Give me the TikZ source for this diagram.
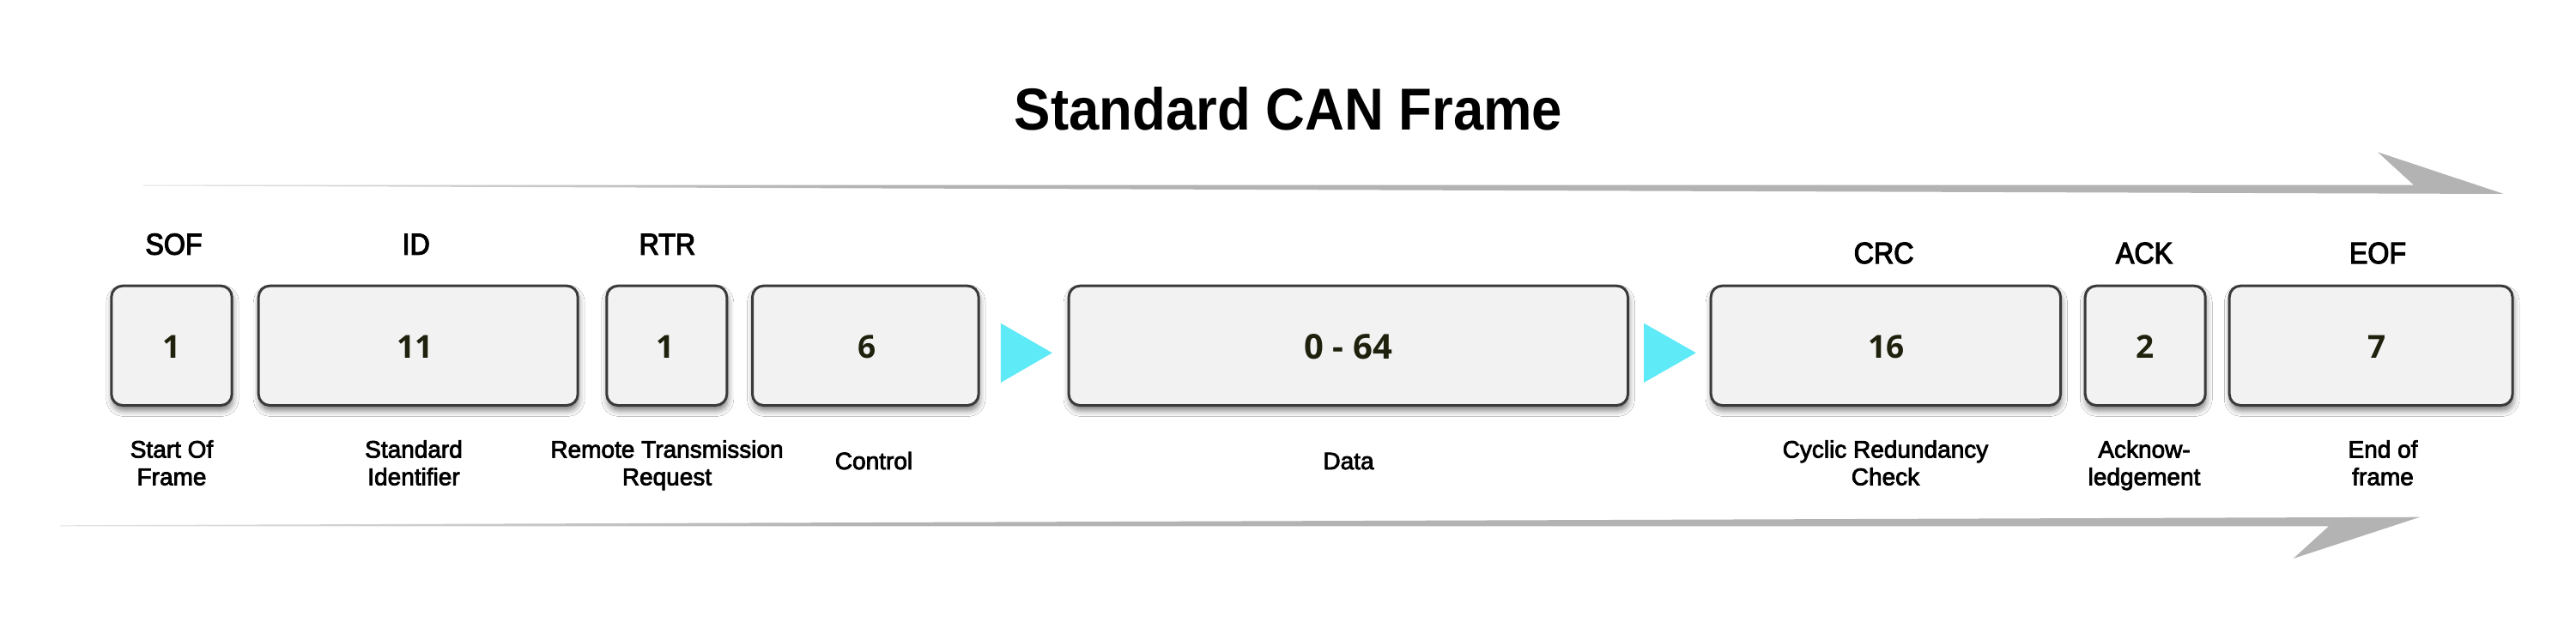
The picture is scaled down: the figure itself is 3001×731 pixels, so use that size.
\documentclass[tikz,border=0pt]{standalone}
\usepackage{fontspec}
\setmainfont{Liberation Sans}
\newfontfamily\tfont[FakeStretch=0.92]{Liberation Sans}
\newfontfamily\hfont[FakeStretch=0.92,FakeBold=3.2]{Liberation Sans}
\newfontfamily\lfont[FakeBold=2.8]{Liberation Sans}
\newfontfamily\nfont{Open Sans}
\usetikzlibrary{shadows.blur}
\definecolor{boxfill}{HTML}{F2F2F2}
\definecolor{boxline}{HTML}{3A3A3A}
\definecolor{arrgray}{HTML}{B3B3B3}
\definecolor{arrlight}{HTML}{E2E2E2}
\definecolor{tricyan}{HTML}{5FEAF7}
\definecolor{numcol}{HTML}{1F210D}
\begin{document}
\begin{tikzpicture}[x=1pt,y=-1pt,
  field/.style={draw=boxline, line width=3pt, fill=boxfill, rounded corners=13pt,
    minimum height=139.3pt, inner sep=0pt,
    blur shadow={shadow xshift=1pt, shadow yshift=-6pt, shadow blur radius=7pt, shadow opacity=50}},
  num/.style={anchor=base, inner sep=0pt, text=numcol, font=\nfont\bfseries\fontsize{37}{44}\selectfont},
  head/.style={anchor=base, inner sep=0pt, font=\hfont\fontsize{35}{42}\selectfont},
  desc/.style={inner sep=0pt, align=center, font=\lfont\fontsize{28}{32}\selectfont},
  titlestyle/.style={anchor=base, inner sep=0pt, font=\tfont\bfseries\fontsize{69}{80}\selectfont},
  tri/.style={fill=tricyan},
  band/.style={fill=arrgray},
  bandfade/.style={left color=arrlight, right color=arrgray}
]
\fill[white] (0,0) rectangle (3001,731);
\useasboundingbox (0,0) rectangle (3001,731);

% title
\node[titlestyle] (title) at (1501,151.7) {Standard CAN Frame};

% top arrow
\shade[bandfade] (167,215.5) -- (1000,215.5) -- (1000,219.4) -- (167,216.5) -- cycle;
\fill[band] (999.5,215.5) -- (2811.7,215.5) -- (2770,177.3) -- (2916.7,226) -- (999.5,219.4) -- cycle;

% bottom arrow
\shade[bandfade] (70,612.3) -- (1000,609.05) -- (1000,613.3) -- (70,613.3) -- cycle;
\fill[band] (999.5,609.05) -- (2819,602.7) -- (2671.7,651) -- (2713,613.3) -- (999.5,613.3) -- cycle;

% boxes
\node[field, minimum width=140.4pt] (sof) at (200,402.85) {};
\node[field, minimum width=372pt]   (id)  at (487.2,402.85) {};
\node[field, minimum width=140pt]   (rtr) at (776.8,402.85) {};
\node[field, minimum width=263.6pt] (ctl) at (1008.3,402.85) {};
\node[field, minimum width=651.4pt] (data) at (1570.8,402.85) {};
\node[field, minimum width=407.3pt] (crc) at (2196.85,402.85) {};
\node[field, minimum width=140pt]   (ack) at (2499.2,402.85) {};
\node[field, minimum width=329.8pt] (eof) at (2762.1,402.85) {};

% cyan triangles
\fill[tri] (1165.8,376.7) -- (1225.8,411.3) -- (1165.8,446) -- cycle;
\fill[tri] (1915,376.7) -- (1975.8,411.3) -- (1915,446) -- cycle;

% numbers
\node[num] (sofN) at (200,417) {1};
\node[num] (idN)  at (483.4,417) {11};
\node[num] (rtrN) at (775,417) {1};
\node[num] (ctlN) at (1010,417) {6};
\node[num, font=\nfont\bfseries\fontsize{40}{48}\selectfont] (dataN) at (1570.8,418.3) {0 - 64};
\node[num] (crcN) at (2197.8,417) {16};
\node[num] (ackN) at (2498.8,417) {2};
\node[num] (eofN) at (2769.3,417) {7};

% top labels
\node[head] (sofH) at (202.5,296.7) {SOF};
\node[head] (idH)  at (484.7,296.7) {ID};
\node[head] (rtrH) at (777.4,296.7) {RTR};
\node[head] (crcH) at (2194.6,307) {CRC};
\node[head] (ackH) at (2498,307) {ACK};
\node[head] (eofH) at (2770,307) {EOF};

% bottom labels
\node[desc, anchor=north] (sofD) at (200,513) {Start Of\\Frame};
\node[desc, anchor=north] (idD)  at (482,513) {Standard\\Identifier};
\node[desc, anchor=north] (rtrD) at (777,513) {Remote Transmission\\Request};
\node[desc, anchor=base]  (ctlD) at (1018,547) {Control};
\node[desc, anchor=base]  (dataD) at (1571,547) {Data};
\node[desc, anchor=north] (crcD) at (2196.5,513) {Cyclic Redundancy\\Check};
\node[desc, anchor=north] (ackD) at (2498,513) {Acknow-\\ledgement};
\node[desc, anchor=north] (eofD) at (2776,513) {End of\\frame};
\end{tikzpicture}
\end{document}
